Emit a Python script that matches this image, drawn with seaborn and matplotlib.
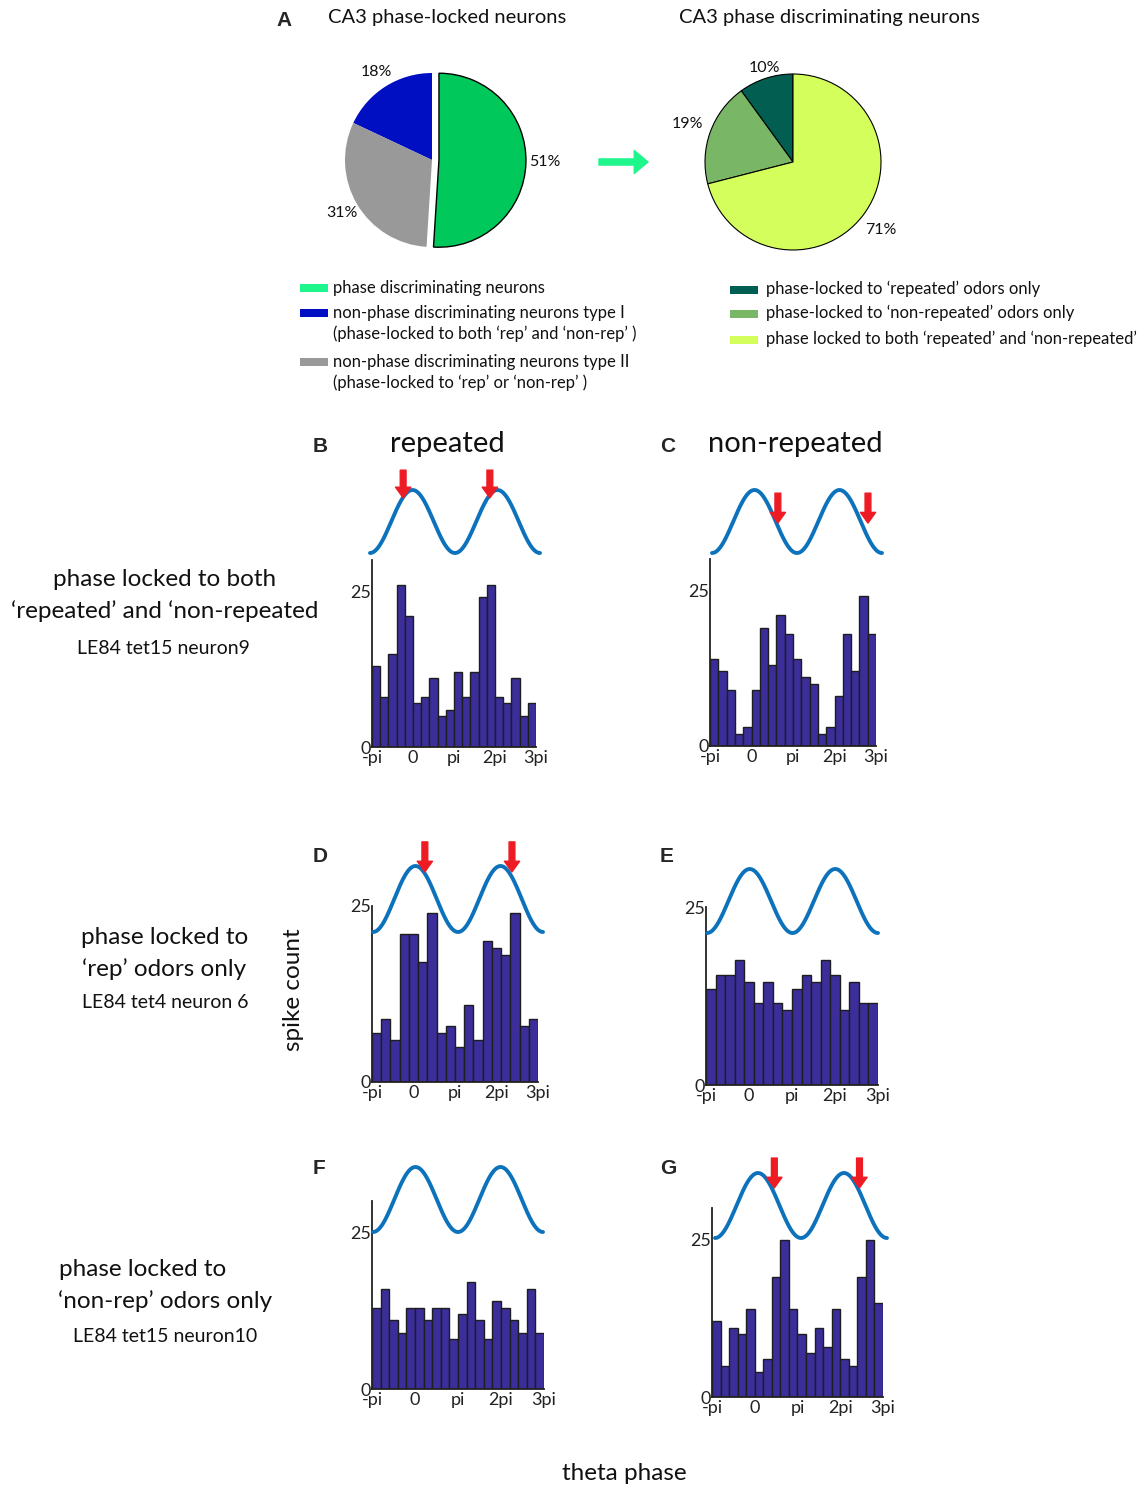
import numpy as np
import matplotlib.pyplot as plt
from matplotlib.patches import Rectangle
import seaborn as sns

sns.set_style('white')
plt.rcParams['font.family'] = ['Lato', 'DejaVu Sans']

W, H = 1137, 1485

# pie data (%)
pie1_labels = ['non-phase discriminating neurons type I', 'non-phase discriminating neurons type II',
               'phase discriminating neurons']
pie1_values = [18, 31, 51]
pie1_colors = ['#000fc2', '#999999', '#00c85a']

pie2_labels = ["phase-locked to \u2018repeated\u2019 odors only",
               "phase-locked to \u2018non-repeated\u2019 odors only",
               "phase locked to both \u2018repeated\u2019 and \u2018non-repeated\u2019"]
pie2_values = [10, 19, 71]
pie2_colors = ['#035e52', '#79b666', '#d4fe5c']

# spike counts per theta-phase bin (-pi .. 3pi)
counts_B = [13, 8, 15, 26, 21, 7, 8, 11, 5, 6, 12, 8, 12, 24, 26, 8, 7, 11, 5, 7]
counts_C = [14, 12, 9, 2, 3, 9, 19, 13, 21, 18, 14, 11, 10, 2, 3, 8, 18, 12, 24, 18]
counts_D = [7, 9, 6, 21, 21, 17, 24, 7, 8, 5, 11, 6, 20, 19, 18, 24, 8, 9]
counts_E = [13.5, 15.5, 15.5, 17.5, 14.5, 11.5, 14.5, 11.5, 10.5, 13.5, 15.5, 14.5, 17.5,
            15.5, 10.5, 14.5, 11.5, 11.5]
counts_F = [13, 16, 11, 9, 13, 13, 11, 13, 13, 8, 12, 17, 11, 8, 14, 13, 11, 9, 16, 9]
counts_G = [12, 5, 11, 10, 14, 4, 6, 19, 25, 14, 10, 7, 11, 8, 14, 6, 5, 19, 25, 15]

# preferred phases (units of pi) marked by red arrows
arrows_B = [-0.22, 1.82]
arrows_C = [0.55, 2.67]
arrows_D = [0.22, 2.27]
arrows_G = [0.38, 2.36]

phase_ticks = [-np.pi, 0, np.pi, 2 * np.pi, 3 * np.pi]
phase_ticklabels = ['-pi', '0', 'pi', '2pi', '3pi']

BAR = '#3b2d9a'
WAVE = '#0b72bb'
RED = '#ed1c24'
TXT = '#111111'


def px_axes(fig, x0, y0, x1, y1):
    return fig.add_axes([x0 / W, 1 - y1 / H, (x1 - x0) / W, (y1 - y0) / H])


def draw_hist(fig, box, counts, ymax):
    ax = px_axes(fig, *box)
    n = len(counts)
    edges = np.linspace(-np.pi, 3 * np.pi, n + 1)
    centers = (edges[:-1] + edges[1:]) / 2
    sns.histplot(x=centers, weights=counts, bins=n, binrange=(-np.pi, 3 * np.pi), ax=ax,
                 color=BAR, edgecolor='#1e1e1e', linewidth=1.0, alpha=1)
    ax.set_xlim(-np.pi, 3 * np.pi)
    ax.set_ylim(0, ymax)
    ax.set_xlabel('')
    ax.set_ylabel('')
    ax.set_xticks(phase_ticks)
    ax.set_xticklabels(phase_ticklabels)
    yt = list(range(0, ymax + 1, 5))
    ax.set_yticks(yt)
    ax.set_yticklabels(['0' if v == 0 else ('25' if v == 25 else '') for v in yt])
    ax.tick_params(axis='y', direction='in', length=4, width=1, pad=1, labelsize=13, colors='#222222')
    ax.tick_params(axis='x', direction='in', length=0, pad=2, labelsize=13, colors='#222222')
    for s in ['top', 'right']:
        ax.spines[s].set_visible(False)
    for s in ['left', 'bottom']:
        ax.spines[s].set_linewidth(1.3)
        ax.spines[s].set_color('#222222')
    ax.patch.set_alpha(0)
    return ax


def draw_wave(fig, box, arrows=None, tips=None):
    ax = px_axes(fig, *box)
    theta = np.linspace(-np.pi, 3 * np.pi, 400)
    sns.lineplot(x=theta, y=np.cos(theta), ax=ax, color=WAVE, linewidth=2.8, estimator=None, sort=False)
    ax.set_xlim(-np.pi, 3 * np.pi)
    ax.set_ylim(-1, 1)
    ax.axis('off')
    for ln in ax.lines:
        ln.set_clip_on(False)
    if arrows:
        for ph, (tip, top) in zip(arrows, tips):
            ax.annotate('', xy=(ph * np.pi, tip), xytext=(ph * np.pi, top), annotation_clip=False,
                        arrowprops=dict(arrowstyle='simple,head_length=0.7,head_width=1.0,tail_width=0.38',
                                        color=RED, shrinkA=0, shrinkB=0, mutation_scale=11))
    return ax


fig = plt.figure(figsize=(W / 100, H / 100), dpi=100)

# overlay for free text, in pixel coordinates
ov = fig.add_axes([0, 0, 1, 1])
ov.set_xlim(0, W)
ov.set_ylim(H, 0)
ov.axis('off')

# ---- panel A: pies
R1 = 87
ax_p1 = px_axes(fig, 432 - 1.25 * R1, 160 - 1.25 * R1, 432 + 1.25 * R1, 160 + 1.25 * R1)
w1, _, t1 = ax_p1.pie(pie1_values, colors=pie1_colors, startangle=90, counterclock=True,
                      explode=[0, 0, 0.08], autopct='%.0f%%', pctdistance=1.2,
                      wedgeprops=dict(linewidth=0), textprops=dict(fontsize=11.5, color=TXT))
w1[2].set_edgecolor('black')
w1[2].set_linewidth(1.0)
t1[2].set_position((1.3, -0.02))
ax_p1.set_xlim(-1.25, 1.25)
ax_p1.set_ylim(-1.25, 1.25)

R2 = 88
ax_p2 = px_axes(fig, 793 - 1.25 * R2, 162 - 1.25 * R2, 793 + 1.25 * R2, 162 + 1.25 * R2)
w2, _, t2 = ax_p2.pie(pie2_values, colors=pie2_colors, startangle=90, counterclock=True,
                      autopct='%.0f%%', pctdistance=1.27,
                      wedgeprops=dict(linewidth=0.8, edgecolor='black'),
                      textprops=dict(fontsize=11.5, color=TXT))
t2[0].set_position((-0.33, 1.07))
ax_p2.set_xlim(-1.25, 1.25)
ax_p2.set_ylim(-1.25, 1.25)

ov.text(284, 20, 'A', fontsize=15, fontweight='bold', family='Liberation Sans', ha='center', va='center')
ov.text(447, 18, 'CA3 phase-locked neurons', fontsize=14.5, ha='center', va='center', color=TXT)
ov.text(829, 18, 'CA3 phase discriminating neurons', fontsize=14.5, ha='center', va='center', color=TXT)
ov.annotate('', xy=(648, 162), xytext=(599, 162),
            arrowprops=dict(arrowstyle='simple,head_length=0.9,head_width=1.5,tail_width=0.4',
                            color='#1ef58a', shrinkA=0, shrinkB=0, mutation_scale=11))

# legends
leg1 = [('#1ef58a', 288, ['phase discriminating neurons']),
        (pie1_colors[0], 313, ['non-phase discriminating neurons type I',
                               "(phase-locked to both \u2018rep\u2019 and \u2018non-rep\u2019 )"]),
        (pie1_colors[1], 362, ['non-phase discriminating neurons type II',
                               "(phase-locked to \u2018rep\u2019 or \u2018non-rep\u2019 )"])]
for col, y, lines in leg1:
    ov.add_patch(Rectangle((300, y - 4), 28, 8, color=col, lw=0))
    for i, s in enumerate(lines):
        ov.text(333, y + i * 21, s, fontsize=12, ha='left', va='center', color=TXT)

for col, y, s in zip(pie2_colors, [290, 314, 340], pie2_labels):
    ov.add_patch(Rectangle((730, y - 4), 28, 8, color=col, lw=0))
    ov.text(766, y - 1, s, fontsize=12, ha='left', va='center', color=TXT)

# ---- histogram panels
draw_hist(fig, (372, 560, 536, 747), counts_B, 30)
draw_wave(fig, (370, 490, 540, 553), arrows_B, [(0.75, 1.63), (0.75, 1.63)])
draw_hist(fig, (710, 559, 876, 746), counts_C, 30)
draw_wave(fig, (712, 490, 882, 553), arrows_C, [(-0.05, 0.9), (-0.05, 0.9)])

draw_hist(fig, (372, 906, 538, 1082), counts_D, 25)
draw_wave(fig, (373, 866, 543, 932), arrows_D, [(0.82, 1.73), (0.82, 1.73)])
draw_hist(fig, (706, 907, 878, 1085), counts_E, 25)
draw_wave(fig, (707, 869, 878, 933))

draw_hist(fig, (372, 1201, 544, 1389), counts_F, 30)
draw_wave(fig, (373, 1167, 543, 1232))
draw_hist(fig, (712, 1208, 883, 1397), counts_G, 30)
draw_wave(fig, (715, 1173, 887, 1238), arrows_G, [(0.54, 1.46), (0.54, 1.46)])

for letter, x, y in [('B', 320, 446), ('C', 668, 446), ('D', 320, 856), ('E', 667, 856),
                     ('F', 319, 1168), ('G', 668, 1168)]:
    ov.text(x, y, letter, fontsize=15, fontweight='bold', family='Liberation Sans', ha='center', va='center')

ov.text(447, 444, 'repeated', fontsize=21, ha='center', va='center', color=TXT)
ov.text(795, 444, 'non-repeated', fontsize=21, ha='center', va='center', color=TXT)

ov.text(165, 580, 'phase locked to both', fontsize=17.5, ha='center', va='center', color=TXT)
ov.text(165, 611, "\u2018repeated\u2019 and \u2018non-repeated", fontsize=17.5, ha='center', va='center', color=TXT)
ov.text(163, 649, 'LE84 tet15 neuron9', fontsize=14, ha='center', va='center', color=TXT)

ov.text(165, 938, 'phase locked to', fontsize=17.5, ha='center', va='center', color=TXT)
ov.text(164, 969, "\u2018rep\u2019 odors only", fontsize=17.5, ha='center', va='center', color=TXT)
ov.text(165, 1002, 'LE84 tet4 neuron 6', fontsize=14, ha='center', va='center', color=TXT)

ov.text(59, 1270, 'phase locked to', fontsize=17.5, ha='left', va='center', color=TXT)
ov.text(165, 1301, "\u2018non-rep\u2019 odors only", fontsize=17.5, ha='center', va='center', color=TXT)
ov.text(165, 1336, 'LE84 tet15 neuron10', fontsize=14, ha='center', va='center', color=TXT)

ov.text(293, 990, 'spike count', fontsize=17.5, rotation=90, ha='center', va='center', color=TXT)
ov.text(624, 1473, 'theta phase', fontsize=17.5, ha='center', va='center', color=TXT)

fig.savefig('out.png', dpi=100)
